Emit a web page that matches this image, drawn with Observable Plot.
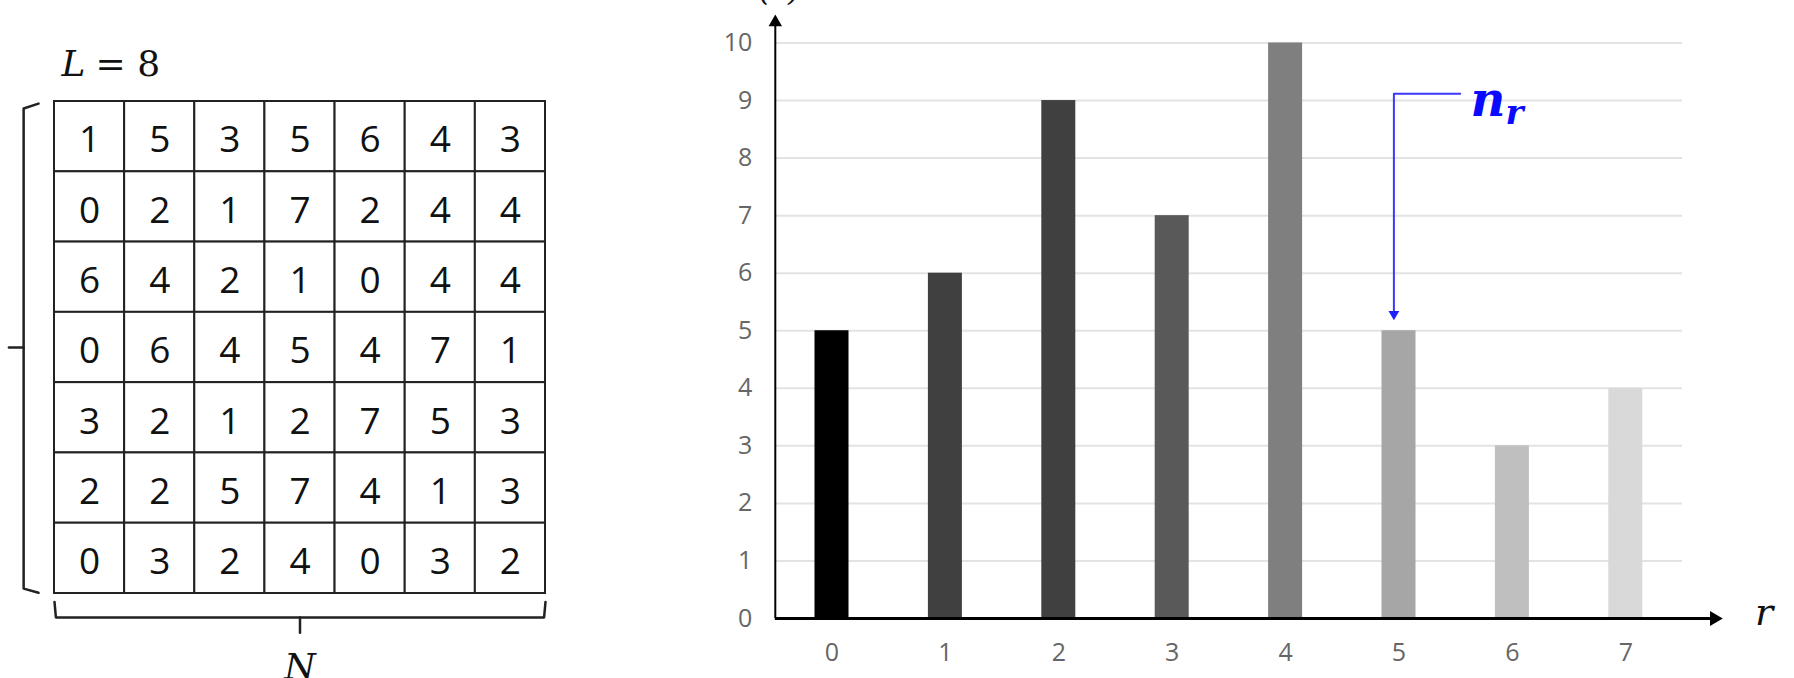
<!DOCTYPE html>
<html><head><meta charset="utf-8">
<script src="https://cdn.jsdelivr.net/npm/d3@7"></script>
<script src="https://cdn.jsdelivr.net/npm/@observablehq/plot@0.6"></script>
<style>
html,body{margin:0;padding:0;background:#fff;}
#wrap{position:relative;width:1794px;height:678px;overflow:hidden;background:#fff;}
#left{position:absolute;left:0;top:0;width:600px;height:678px;}
#right{position:absolute;left:600px;top:0;width:1194px;height:678px;}
</style></head><body>
<div id="wrap"><div id="left"></div><div id="right"></div></div>
<script>
// ---- data ----
const gridRows = [
  [1,5,3,5,6,4,3],
  [0,2,1,7,2,4,4],
  [6,4,2,1,0,4,4],
  [0,6,4,5,4,7,1],
  [3,2,1,2,7,5,3],
  [2,2,5,7,4,1,3],
  [0,3,2,4,0,3,2]
];
const levels = [0,1,2,3,4,5,6,7];
const counts = [5,6,9,7,10,5,3,4];
const barColors = ["#000000","#404040","#404040","#595959","#7f7f7f","#a6a6a6","#bfbfbf","#d9d9d9"];
const yTicks = [0,1,2,3,4,5,6,7,8,9,10];
const levelsLabel = "L";
const levelsValue = "= 8";
const widthLabel = "N";
const xLabel = "r";
const yLabel = "n(r)";
const annotMain = "n";
const annotSub = "r";

// annotation geometry (data units)
const leftBracket = [
  {part:"a", x:-0.228, y:0.03},{part:"a", x:-0.44, y:0.1},{part:"a", x:-0.44, y:6.93},{part:"a", x:-0.228, y:6.99},
  {part:"b", x:-0.44, y:3.5},{part:"b", x:-0.65, y:3.5}
];
const bottomBrace = [
  {part:"a", x:0, y:7.12},{part:"a", x:0.02, y:7.34},{part:"a", x:6.98, y:7.34},{part:"a", x:7, y:7.12},
  {part:"b", x:3.5, y:7.34},{part:"b", x:3.5, y:7.56}
];
const annotPath = [{x:5.54, y:9.12},{x:4.955, y:9.12},{x:4.955, y:5.35}];

// ---- left: grid of values ----
const cells = gridRows.flatMap((row, i) => row.map((v, j) => ({row:i, col:j, v})));
const serif = "DejaVu Serif";
const left = Plot.plot({
  width: 600, height: 678,
  marginLeft: 54, marginRight: 55, marginTop: 101, marginBottom: 85,
  x: {domain:[0,7], axis:null},
  y: {domain:[0,7], reverse:true, axis:null},
  style: {background:"transparent", fontFamily:"Open Sans"},
  marks: [
    Plot.rect(cells, {x1:d=>d.col, x2:d=>d.col+1, y1:d=>d.row, y2:d=>d.row+1, fill:"white", stroke:"#222", strokeWidth:2}),
    Plot.text(cells, {x:d=>d.col+0.5, y:d=>d.row+0.5, text:"v", fontSize:37, fontFamily:"Open Sans", fill:"#111", dy:4}),
    Plot.line(leftBracket, {x:"x", y:"y", z:"part", stroke:"#222", strokeWidth:2.5, curve:"linear"}),
    Plot.line(bottomBrace, {x:"x", y:"y", z:"part", stroke:"#222", strokeWidth:2.5, curve:"linear"}),
    Plot.text([levelsLabel], {x:0.1, y:-0.356, text:d=>d, fontSize:36, fontFamily:serif, fontStyle:"italic", textAnchor:"start", lineAnchor:"bottom", fill:"#111"}),
    Plot.text([levelsValue], {x:0.585, y:-0.356, text:d=>d, fontSize:36, fontFamily:serif, textAnchor:"start", lineAnchor:"bottom", fill:"#111"}),
    Plot.text([widthLabel], {x:3.5, y:8.22, text:d=>d, fontSize:36, fontFamily:serif, fontStyle:"italic", lineAnchor:"bottom", fill:"#111"})
  ]
});
document.getElementById("left").appendChild(left);

// ---- right: histogram ----
const bars = levels.map((r, i) => ({r, n: counts[i], color: barColors[i]}));
const right = Plot.plot({
  width: 1194, height: 678,
  marginLeft: 174.8, marginRight: 112, marginTop: 42.5, marginBottom: 60,
  x: {domain:[-0.5, 7.5], axis:null, label:null},
  y: {domain:[0, 10], axis:null, label:null},
  color: {type:"identity"},
  style: {background:"transparent", fontFamily:"Open Sans"},
  marks: [
    Plot.gridY(yTicks, {stroke:"#e3e3e3", strokeOpacity:1, strokeWidth:2}),
    Plot.rect(bars, {x1:d=>d.r-0.5, x2:d=>d.r+0.5, y1:0, y2:"n", fill:d=>d.color, insetLeft:39.7, insetRight:39.7}),
    Plot.axisY(yTicks, {anchor:"left", label:null, tickFormat:d=>String(d), tickSize:0, tickPadding:23, fontSize:25, fontWeight:500, fill:"#666"}),
    Plot.axisX(levels, {anchor:"bottom", label:null, tickFormat:d=>String(d), tickSize:0, tickPadding:25, fontSize:25, fontWeight:500, fill:"#666"}),
    Plot.ruleX([-0.5], {y1:0, y2:10.3, stroke:"black", strokeWidth:2}),
    Plot.dot([{x:-0.5, y:10.36}], {x:"x", y:"y", symbol:"triangle", r:5, fill:"black", stroke:null}),
    Plot.ruleY([0], {x1:-0.5, x2:7.75, stroke:"black", strokeWidth:3}),
    Plot.dot([{x:7.78, y:0}], {x:"x", y:"y", symbol:"triangle", rotate:90, r:5.5, fill:"black", stroke:null}),
    Plot.line(annotPath, {x:"x", y:"y", stroke:"#3a3aff", strokeWidth:2}),
    Plot.dot([{x:4.955, y:5.29}], {x:"x", y:"y", symbol:"triangle", rotate:180, r:4, fill:"#2020ff", stroke:null}),
    Plot.text([annotMain], {x:5.63, y:8.74, text:d=>d, fontSize:48, fontWeight:"bold", fontFamily:serif, fontStyle:"italic", textAnchor:"start", lineAnchor:"bottom", fill:"#0a0aff"}),
    Plot.text([annotSub], {x:5.94, y:8.6, text:d=>d, fontSize:34, fontWeight:"bold", fontFamily:serif, fontStyle:"italic", textAnchor:"start", lineAnchor:"bottom", fill:"#0a0aff"}),
    Plot.text([xLabel], {x:8.14, y:-0.12, text:d=>d, fontSize:38, fontFamily:serif, fontStyle:"italic", textAnchor:"start", lineAnchor:"bottom", fill:"#111"}),
    Plot.text([yLabel], {x:-0.842, y:10.74, text:d=>d, fontSize:34, fontFamily:serif, fontStyle:"italic", textAnchor:"start", lineAnchor:"bottom", fill:"#111"})
  ]
});
document.getElementById("right").appendChild(right);
</script>
</body></html>
